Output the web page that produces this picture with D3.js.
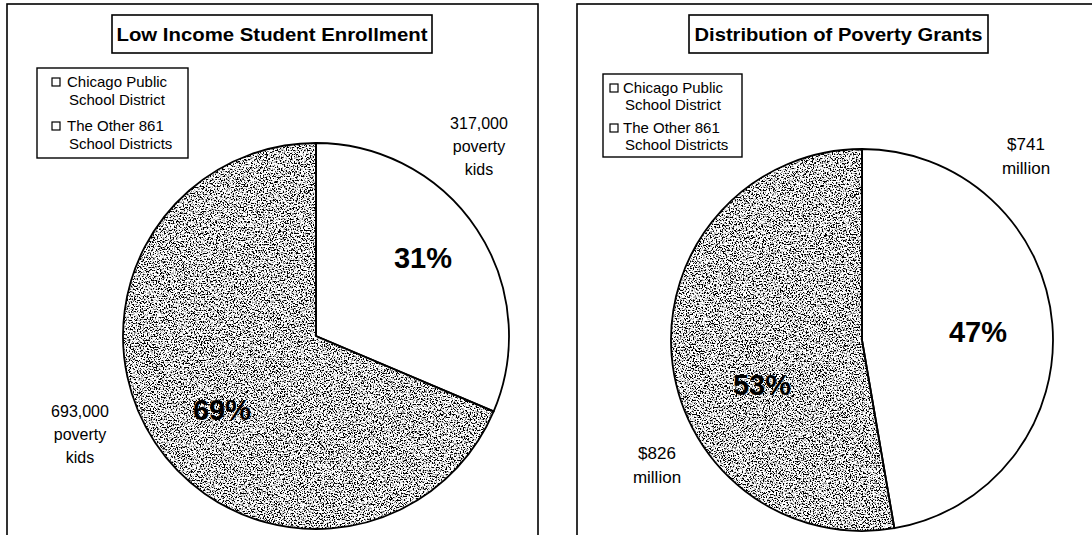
<!DOCTYPE html>
<html>
<head>
<meta charset="utf-8">
<script src="https://cdn.jsdelivr.net/npm/d3@7"></script>
<style>
  body { margin: 0; background: #fff; }
  svg text { font-family: Arial, "Liberation Sans", Helvetica, sans-serif; fill: #000; }
</style>
</head>
<body>
<div id="chart"></div>
<script>
// data
const districts = ["Chicago Public School District", "The Other 861 School Districts"];
const legendLines = [["Chicago Public", "School District"], ["The Other 861", "School Districts"]];
const enrollment = [317000, 693000];   // poverty kids
const grants = [741, 826];             // $ million
const titles = ["Low Income Student Enrollment", "Distribution of Poverty Grants"];

const W = 1092, H = 535;

// layout of each panel (positions only)
const panels = [
  {
    title: titles[0], values: enrollment,
    labels: enrollment.map((v) => [d3.format(",")(v), "poverty", "kids"]),
    frame: [7, 4], titleBox: [112, 15, 320, 38], titleLen: 311,
    legend: { x: 37, y: 68, w: 151, h: 90, sq: 52, tx: 67, base: [87, 105, 131, 149], font: 15 },
    cx: 316, cy: 336, r: 193,
    pctPos: [[107, -68], [-94, 84]],
    valPos: [[163, -207], [-236, 81]], valFont: 16, lineH: 23,
  },
  {
    title: titles[1], values: grants,
    labels: grants.map((v) => ["$" + v, "million"]),
    frame: [577, 4], titleBox: [689, 15, 299, 38], titleLen: 288,
    legend: { x: 603, y: 74, w: 139, h: 83, sq: 610, tx: 623, base: [93, 110, 133, 150], font: 15 },
    cx: 862, cy: 340, r: 191,
    pctPos: [[116, 2], [-100, 55]],
    valPos: [[164, -190], [-205, 119]], valFont: 17, lineH: 24,
  },
];

const svg = d3.select("#chart").append("svg")
  .attr("width", W).attr("height", H);

// speckled grey fill, like the scanned stipple
const defs = svg.append("defs");
const f = defs.append("filter").attr("id", "speckle")
  .attr("x", 0).attr("y", 0).attr("width", "100%").attr("height", "100%");
f.append("feTurbulence").attr("type", "fractalNoise")
  .attr("baseFrequency", 0.7).attr("numOctaves", 3).attr("seed", 7).attr("result", "noise");
f.append("feColorMatrix").attr("in", "noise").attr("type", "matrix")
  .attr("values", "0 0 0 0 0  0 0 0 0 0  0 0 0 0 0  -7 0 0 0 3.75").attr("result", "dots");
f.append("feFlood").attr("flood-color", "#fff").attr("result", "white");
f.append("feComposite").attr("in", "dots").attr("in2", "white").attr("operator", "over").attr("result", "tex");
f.append("feComposite").attr("in", "tex").attr("in2", "SourceGraphic").attr("operator", "in");

const pie = d3.pie().sort(null).value((d) => d);

panels.forEach((p) => {
  const g = svg.append("g");

  // outer frame (runs off the bottom of the picture)
  g.append("rect")
    .attr("x", p.frame[0]).attr("y", p.frame[1])
    .attr("width", 531).attr("height", 600)
    .attr("fill", "none").attr("stroke", "#000").attr("stroke-width", 1.6);

  // title box
  const [tx, ty, tw, th] = p.titleBox;
  g.append("rect").attr("x", tx).attr("y", ty).attr("width", tw).attr("height", th)
    .attr("fill", "#fff").attr("stroke", "#000").attr("stroke-width", 1.6);
  g.append("text")
    .attr("x", tx + tw / 2).attr("y", ty + 26)
    .attr("text-anchor", "middle")
    .attr("font-size", 19).attr("font-weight", "bold")
    .attr("textLength", p.titleLen).attr("lengthAdjust", "spacingAndGlyphs")
    .text(p.title);

  // legend
  const L = p.legend;
  g.append("rect").attr("x", L.x).attr("y", L.y).attr("width", L.w).attr("height", L.h)
    .attr("fill", "#fff").attr("stroke", "#000").attr("stroke-width", 1.4);
  districts.forEach((name, i) => {
    g.append("rect")
      .attr("x", L.sq).attr("y", L.base[i * 2] - 9)
      .attr("width", 8).attr("height", 8)
      .attr("fill", "#fff").attr("stroke", "#000").attr("stroke-width", 1.2);
    legendLines[i].forEach((line, j) => {
      g.append("text")
        .attr("x", L.tx + (j ? 2 : 0)).attr("y", L.base[i * 2 + j])
        .attr("font-size", L.font)
        .text(line);
    });
  });

  // pie
  const arcs = pie(p.values);
  const arc = d3.arc().innerRadius(0).outerRadius(p.r);
  const pg = g.append("g").attr("transform", `translate(${p.cx},${p.cy})`);

  pg.selectAll("path.fill")
    .data(arcs)
    .join("path")
    .attr("class", "fill")
    .attr("d", arc)
    .attr("fill", (d, i) => (i === 0 ? "#fff" : "#000"))
    .attr("filter", (d, i) => (i === 0 ? null : "url(#speckle)"));

  pg.selectAll("path.edge")
    .data(arcs)
    .join("path")
    .attr("class", "edge")
    .attr("d", arc)
    .attr("fill", "none")
    .attr("stroke", "#000")
    .attr("stroke-width", 1.8)
    .attr("stroke-linejoin", "round");

  // percentage labels
  const total = d3.sum(p.values);
  pg.selectAll("text.pct")
    .data(arcs)
    .join("text")
    .attr("class", "pct")
    .attr("x", (d, i) => p.pctPos[i][0])
    .attr("y", (d, i) => p.pctPos[i][1])
    .attr("text-anchor", "middle")
    .attr("font-size", 29).attr("font-weight", "bold")
    .text((d) => d3.format(".0%")(d.value / total));

  // value labels outside the pie
  p.labels.forEach((lines, i) => {
    const t = pg.append("text")
      .attr("text-anchor", "middle")
      .attr("font-size", p.valFont);
    lines.forEach((s, j) => {
      t.append("tspan")
        .attr("x", p.valPos[i][0])
        .attr("y", p.valPos[i][1] + j * p.lineH)
        .text(s);
    });
  });
});
</script>
</body>
</html>
